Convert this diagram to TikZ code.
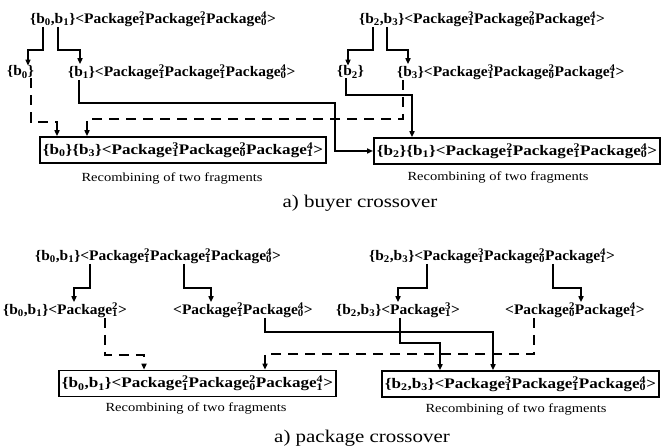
\documentclass[tikz,border=0pt]{standalone}
\usepackage{fontspec}
\setmainfont{Liberation Serif}
\usetikzlibrary{arrows.meta}
\newcommand\pk[2]{Package\rlap{\textsuperscript{#1}}\textsubscript{#2}}
\newcommand\bb[1]{b\textsubscript{#1}}
\newcommand\sx[1]{\scalebox{1.17}[1]{#1}}
\newcommand\rx[1]{\scalebox{1.06}[1]{#1}}
\tikzset{
  lbl/.style={anchor=west,inner sep=0pt,font=\fontsize{14.6}{16}\selectfont\bfseries},
  box/.style={anchor=west,draw,line width=1.6pt,inner xsep=3pt,inner ysep=0pt,minimum height=26pt,font=\fontsize{14.6}{16}\selectfont\bfseries},
  capt/.style={inner sep=0pt,font=\fontsize{12.4}{14}\selectfont},
  ttl/.style={inner sep=0pt,font=\fontsize{17.9}{20}\selectfont},
  conn/.style={line width=1.6pt,-{Triangle[length=6pt,width=5pt]}},
  dconn/.style={conn,dash pattern=on 10pt off 7pt}
}
\begin{document}
\begin{tikzpicture}[x=1pt,y=-1pt]
\useasboundingbox (0,0) rectangle (669,446);
% ---------- part a ----------
\node[lbl] (A) at (30,19) {\rx{\{\bb0,\bb1\}<\pk21\pk21\pk40>}};
\node[lbl] (B) at (359,19) {\rx{\{\bb2,\bb3\}<\pk31\pk20\pk41>}};
\node[lbl] (a0) at (7,72) {\rx{\{\bb0\}}};
\node[lbl] (a1) at (68,72) {\rx{\{\bb1\}<\pk21\pk21\pk40>}};
\node[lbl] (b2) at (337,72) {\rx{\{\bb2\}}};
\node[lbl] (b3) at (397,72) {\rx{\{\bb3\}<\pk31\pk20\pk41>}};
\node[box] (LB) at (39,150) {\sx{\{\bb0\}\{\bb3\}<\pk31\pk20\pk41>}};
\node[box] (RB) at (373,151) {\sx{\{\bb2\}\{\bb1\}<\pk21\pk21\pk40>}};
\node[capt] (c1) at (172,178) {\sx{Recombining of two fragments}};
\node[capt] (c2) at (498,177) {\sx{Recombining of two fragments}};
\node[ttl] (t1) at (360,203) {\sx{a) buyer crossover}};
\draw[conn] (43,0 |- A.south) -- (43,50) -| (28,0 |- a0.north);
\draw[conn] (58,0 |- A.south) -- (58,50) -| (80,0 |- a1.north);
\draw[conn] (373,0 |- B.south) -- (373,50) -| (348,0 |- b2.north);
\draw[conn] (387,0 |- B.south) -- (387,50) -| (408,0 |- b3.north);
\draw[conn] (79,0 |- a1.south) |- (335,103) |- (RB.west);
\draw[conn] (346,0 |- b2.south) |- (412,95) -- (412,0 |- RB.north);
\draw[dconn] (403,0 |- b3.south) |- (87,119) -- (87,0 |- LB.north);
\draw[dconn] (31,0 |- a0.south) |- (57,122) -- (57,0 |- LB.north);
% ---------- part b ----------
\node[lbl] (C) at (35,256) {\rx{\{\bb0,\bb1\}<\pk21\pk21\pk40>}};
\node[lbl] (D) at (369,256) {\rx{\{\bb2,\bb3\}<\pk31\pk20\pk41>}};
\node[lbl] (e1) at (3,310) {\rx{\{\bb0,\bb1\}<\pk21>}};
\node[lbl] (e2) at (173,310) {\rx{<\pk21\pk40>}};
\node[lbl] (f1) at (336,310) {\rx{\{\bb2,\bb3\}<\pk31>}};
\node[lbl] (f2) at (505,310) {\rx{<\pk20\pk41>}};
\node[box] (LB2) at (58,383.5) {\sx{\{\bb0,\bb1\}<\pk21\pk20\pk41>}};
\node[box] (RB2) at (381,384) {\sx{\{\bb2,\bb3\}<\pk31\pk21\pk40>}};
\node[capt] (c3) at (196,408) {\sx{Recombining of two fragments}};
\node[capt] (c4) at (516,409) {\sx{Recombining of two fragments}};
\node[ttl] (t2) at (362,438) {\sx{a) package crossover}};
\draw[conn] (90,0 |- C.south) -- (90,288) -| (74,0 |- e1.north);
\draw[conn] (184,0 |- C.south) -- (184,288) -| (211,0 |- e2.north);
\draw[conn] (427,0 |- D.south) -- (427,288) -| (398,0 |- f1.north);
\draw[conn] (553,0 |- D.south) -- (553,288) -| (581,0 |- f2.north);
\draw[dconn] (105,0 |- e1.south) |- (144,355) -- (144,0 |- LB2.north);
\draw[conn] (265,0 |- e2.south) |- (493,332) -- (493,0 |- RB2.north);
\draw[conn] (400,0 |- f1.south) |- (440,343) -- (440,0 |- RB2.north);
\draw[dconn] (534,0 |- f2.south) |- (265,354) -- (265,0 |- LB2.north);
\end{tikzpicture}
\end{document}
